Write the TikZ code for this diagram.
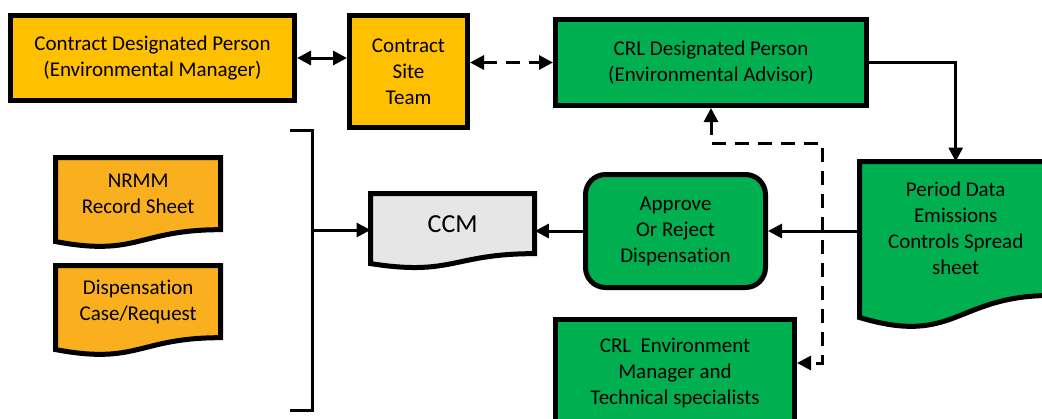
\documentclass[tikz,border=0pt]{standalone}
\usepackage{fontspec}
\setmainfont{Carlito}[Ligatures=NoCommon]
\usetikzlibrary{arrows.meta,calc}
\definecolor{ambr}{HTML}{FFC000}
\definecolor{orng}{HTML}{FAB01E}
\definecolor{grn}{HTML}{00B050}
\definecolor{lgry}{HTML}{E6E6E6}
\tikzset{
	boxnode/.style={draw, line width=5pt, align=center, inner sep=0pt, font=\fontsize{21}{26}\selectfont},
	doctext/.style={align=center, inner sep=0pt, font=\fontsize{21}{26}\selectfont},
	link/.style={line width=3pt},
	dlink/.style={line width=3pt, dash pattern=on 14pt off 9pt}
}
\def\docnode[#1](#2)(#3,#4)(#5:#6)#7{%
	\draw[line width=5pt, #1] (#3,#4) -- ({#3+#5},#4) -- ({#3+#5},{#4+0.802*#6}) .. controls ({#3+0.5*#5},{#4+0.802*#6}) and ({#3+0.5*#5},{#4+1.107*#6}) .. (#3,{#4+0.934*#6}) -- cycle;
	\node[doctext, minimum width=#5, minimum height={0.802*#6}, anchor=north west] (#2) at (#3,#4) {#7};}
\begin{document}
\begin{tikzpicture}[x=1pt, y=-1pt, >={Triangle[length=14pt,width=14pt]}]
			%%%%% START %%%%%
			\useasboundingbox (0,0) rectangle (1042,418);
			\clip (0,0) rectangle (1042,418);
			
			\node[boxnode, fill=ambr, minimum width=284, minimum height=85] (cdp) at (152.5,58) {Contract Designated Person\\(Environmental Manager)};
			\node[boxnode, fill=ambr, minimum width=118, minimum height=112] (cst) at (408.5,71.5) {Contract\\Site\\Team};
			\node[boxnode, fill=grn, minimum width=311, minimum height=86] (crl) at (711,62.5) {CRL Designated Person\\(Environmental Advisor)};
			\node[boxnode, fill=grn, rounded corners=20pt, minimum width=180, minimum height=113] (appr) at (675.5,231) {Approve\\Or Reject\\Dispensation};
			\node[boxnode, fill=grn, minimum width=239, minimum height=107] (crlem) at (675,373) {CRL\ \ Environment\\Manager and\\Technical specialists};
			
			\docnode[fill=orng](nrmm)(55.5,157.5)(165:90){NRMM\\Record Sheet}
			\docnode[fill=orng](disp)(55.5,265.5)(165:90){Dispensation\\Case/Request}
			\docnode[fill=lgry](ccm)(370.5,193.5)(164:75){\fontsize{26}{30}\selectfont CCM}
			\docnode[fill=grn](pds)(859.5,161.5)(192:167){Period Data\\Emissions\\Controls Spread\\sheet}
			
			\draw[link] (290,130) -- (312,130) -- (312,410) -- (290,410);
			\coordinate (bkt) at (312,230);
			\coordinate (dj) at (822,143);
			
			\draw[link, <->] (cdp.east) -- (cdp.east -| cst.west);
			\draw[dlink, <->] (cst.east |- crl.west) -- (crl.west);
			\draw[link, ->] (crl.east) -| (pds.north);
			\draw[link, ->] (appr.east -| pds.west) -- (appr.east);
			\draw[link, ->] (appr.west) -- (appr.west -| ccm.east);
			\draw[link, ->] (bkt) -- (bkt -| ccm.west);
			\draw[dlink, <->] (crl.south) |- (dj) |- ([yshift=10pt]crlem.east);
			
			%%%%% END %%%%%
\end{tikzpicture}
\end{document}
